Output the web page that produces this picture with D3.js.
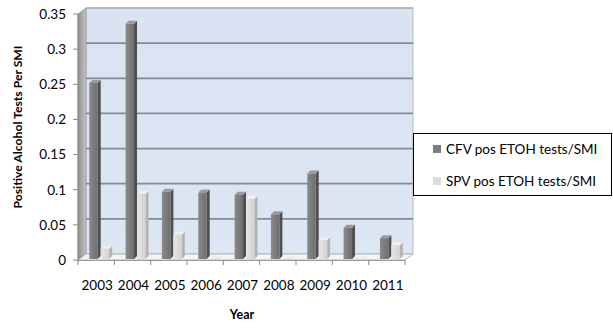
<!DOCTYPE html>
<html>
<head>
<meta charset="utf-8">
<script src="https://cdn.jsdelivr.net/npm/d3@7/dist/d3.min.js"></script>
<style>
  html, body { margin: 0; padding: 0; background: #fff; }
  svg { display: block; }
  text { font-family: Lato, "Open Sans", sans-serif; fill: #000; }
</style>
</head>
<body>
<svg id="chart" width="613" height="328"></svg>
<script>
// Chart data
const years = ["2003", "2004", "2005", "2006", "2007", "2008", "2009", "2010", "2011"];
const seriesNames = ["CFV pos ETOH tests/SMI", "SPV pos ETOH tests/SMI"];
const cfvValues = [0.252, 0.336, 0.097, 0.096, 0.093, 0.065, 0.123, 0.046, 0.031];
const spvValues = [0.016, 0.094, 0.036, 0.002, 0.087, 0.002, 0.028, 0.002, 0.021];
const yTicks = [0, 0.05, 0.1, 0.15, 0.2, 0.25, 0.3, 0.35];
const yTickLabels = ["0", "0.05", "0.1", "0.15", "0.2", "0.25", "0.3", "0.35"];
const yTitle = "Positive Alcohol Tests Per SMI";
const xTitle = "Year";

const svg = d3.select("#chart");

// Plot geometry (front plane of the 3D box, plus depth offset to the back wall)
const plotLeft = 78, plotRight = 405, plotTop = 14, plotBottom = 260;
const depthX = 8, depthY = -6;      // wall depth
const barDX = 3, barDY = -3;        // bar depth

const x0 = d3.scaleBand().domain(years).range([plotLeft, plotRight]).padding(0);
const x1 = d3.scaleBand().domain(seriesNames)
  .range([x0.bandwidth() * 0.31, x0.bandwidth() * 0.94]).padding(0);
const y = d3.scaleLinear().domain([0, 0.35]).range([plotBottom, plotTop]);

const defs = svg.append("defs");
const sideGrad = defs.append("linearGradient").attr("id", "sideWall")
  .attr("x1", 0).attr("x2", 1).attr("y1", 0).attr("y2", 0);
sideGrad.append("stop").attr("offset", 0).attr("stop-color", "#8e8e8e");
sideGrad.append("stop").attr("offset", 1).attr("stop-color", "#c4c4c4");

const wallGrad = defs.append("linearGradient").attr("id", "backWall")
  .attr("x1", 0).attr("x2", 0).attr("y1", 0).attr("y2", 1);
wallGrad.append("stop").attr("offset", 0).attr("stop-color", "#d9e3f2");
wallGrad.append("stop").attr("offset", 1).attr("stop-color", "#dde6f3");

function barGrad(id, c0, c1) {
  const g = defs.append("linearGradient").attr("id", id)
    .attr("x1", 0).attr("x2", 1).attr("y1", 0).attr("y2", 0);
  g.append("stop").attr("offset", 0).attr("stop-color", c0);
  g.append("stop").attr("offset", 1).attr("stop-color", c1);
}
barGrad("cfvFront", "#8a8a8a", "#6e6e6e");
barGrad("spvFront", "#e6e6e6", "#d2d2d2");

// Back wall
const yBack = v => y(v) + depthY;
svg.append("rect")
  .attr("x", plotLeft + depthX).attr("y", yBack(0.35))
  .attr("width", plotRight - plotLeft).attr("height", yBack(0) - yBack(0.35))
  .attr("fill", "url(#backWall)")
  .attr("stroke", "#b8bcc4").attr("stroke-width", 1);

// Side wall
svg.append("polygon")
  .attr("points", [[plotLeft, y(0.35)], [plotLeft + depthX, yBack(0.35)], [plotLeft + depthX, yBack(0)], [plotLeft, y(0)]].join(" "))
  .attr("fill", "url(#sideWall)")
  .attr("stroke", "#9a9a9a").attr("stroke-width", 0.8);

// Gridlines on the back wall
svg.append("g").selectAll("line").data(yTicks.filter(v => v > 0 && v < 0.35)).join("line")
  .attr("x1", plotLeft + depthX).attr("x2", plotRight + depthX)
  .attr("y1", v => yBack(v)).attr("y2", v => yBack(v))
  .attr("stroke", "#838b97").attr("stroke-width", 1.7);
svg.append("line")
  .attr("x1", plotLeft + depthX).attr("x2", plotRight + depthX)
  .attr("y1", yBack(0.35)).attr("y2", yBack(0.35))
  .attr("stroke", "#a9afb8").attr("stroke-width", 1.4);

// Floor
svg.append("polygon")
  .attr("points", [[plotLeft, y(0)], [plotRight, y(0)], [plotRight + depthX, yBack(0)], [plotLeft + depthX, yBack(0)]].join(" "))
  .attr("fill", "#f4f4f4").attr("stroke", "#a8a8a8").attr("stroke-width", 0.8);
svg.append("line")
  .attr("x1", plotLeft).attr("x2", plotRight).attr("y1", y(0) + 0.5).attr("y2", y(0) + 0.5)
  .attr("stroke", "#9c9c9c").attr("stroke-width", 1.2);

// 3D bars
const palettes = {
  [seriesNames[0]]: { front: "url(#cfvFront)", side: "#4f4f4f", top: "#9b9b9b" },
  [seriesNames[1]]: { front: "url(#spvFront)", side: "#b3b3b3", top: "#f0f0f0" }
};
const rows = years.flatMap((yr, i) => [
  { year: yr, series: seriesNames[0], value: cfvValues[i] },
  { year: yr, series: seriesNames[1], value: spvValues[i] }
]);
const bw = x1.bandwidth() - barDX;
const barG = svg.append("g");
rows.forEach(d => {
  const bx = x0(d.year) + x1(d.series);
  const by = y(d.value);
  const b0 = y(0) - 1;
  const p = palettes[d.series];
  const g = barG.append("g");
  // side face
  g.append("polygon")
    .attr("points", [[bx + bw, by], [bx + bw + barDX, by + barDY], [bx + bw + barDX, b0 + barDY], [bx + bw, b0]].join(" "))
    .attr("fill", p.side);
  // top face
  g.append("polygon")
    .attr("points", [[bx, by], [bx + barDX, by + barDY], [bx + bw + barDX, by + barDY], [bx + bw, by]].join(" "))
    .attr("fill", p.top);
  // front face
  g.append("rect")
    .attr("x", bx).attr("y", by).attr("width", bw).attr("height", Math.max(0, b0 - by))
    .attr("fill", p.front);
});

// Y axis: ticks and labels
const yAxisG = svg.append("g");
yAxisG.append("line").attr("x1", plotLeft).attr("x2", plotLeft).attr("y1", y(0.35)).attr("y2", y(0) + 2)
  .attr("stroke", "#8a8a8a").attr("stroke-width", 1);
yAxisG.selectAll("line.tick").data(yTicks).join("line").attr("class", "tick")
  .attr("x1", plotLeft - 5).attr("x2", plotLeft).attr("y1", v => y(v)).attr("y2", v => y(v))
  .attr("stroke", "#8a8a8a").attr("stroke-width", 1);
yAxisG.selectAll("text").data(yTicks).join("text")
  .attr("x", 66).attr("y", v => y(v)).attr("dy", "0.36em")
  .attr("text-anchor", "end").attr("font-size", 13.5)
  .text((v, i) => yTickLabels[i]);

// X axis: category ticks and labels
const xAxisG = svg.append("g");
const boundaries = years.map(yr => x0(yr)).concat([plotRight]);
xAxisG.selectAll("line").data(boundaries).join("line")
  .attr("x1", d => d).attr("x2", d => d).attr("y1", y(0)).attr("y2", y(0) + 5)
  .attr("stroke", "#8a8a8a").attr("stroke-width", 1);
xAxisG.selectAll("text").data(years).join("text")
  .attr("x", d => x0(d) + x0.bandwidth() / 2 + 1).attr("y", 290)
  .attr("text-anchor", "middle").attr("font-size", 13.5)
  .text(d => d);

// Axis titles
svg.append("text")
  .attr("transform", "translate(22,127) rotate(-90)")
  .attr("text-anchor", "middle").attr("font-size", 12.2).attr("font-weight", "bold")
  .text(yTitle);
svg.append("text")
  .attr("x", 242).attr("y", 319)
  .attr("text-anchor", "middle").attr("font-size", 12.5).attr("font-weight", "bold")
  .text(xTitle);

// Legend
const legend = svg.append("g");
legend.append("rect")
  .attr("x", 413.5).attr("y", 133.5).attr("width", 198).attr("height", 62)
  .attr("fill", "#fff").attr("stroke", "#000").attr("stroke-width", 1);
const legendColors = ["#7c7c7c", "#dcdcdc"];
seriesNames.forEach((name, i) => {
  const ly = 149 + i * 32;
  legend.append("rect").attr("x", 433).attr("y", ly - 4).attr("width", 8).attr("height", 8)
    .attr("fill", legendColors[i]);
  legend.append("text").attr("x", 446).attr("y", ly).attr("dy", "0.36em")
    .attr("font-size", 13.5).text(name);
});
</script>
</body>
</html>
